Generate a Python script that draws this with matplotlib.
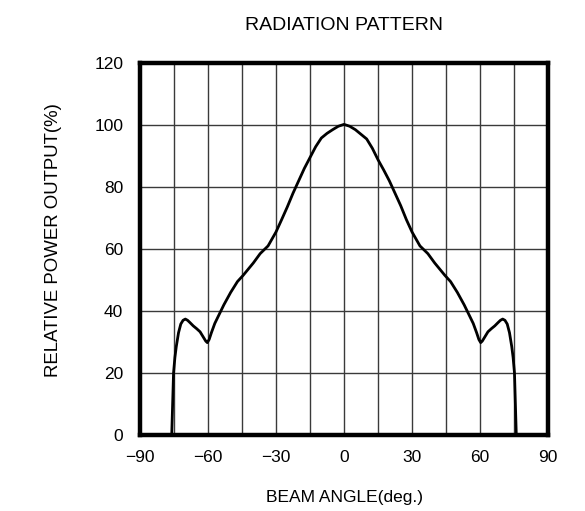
import matplotlib
matplotlib.use('Agg')
import matplotlib.pyplot as plt
import numpy as np

# beam angle (deg) and relative power output (%)
angle = [-76.0, -75.6, -75.2, -74.6, -74.0, -73.0, -72.0, -71.0, -70.0, -69.0, -68.0,
         -66.5, -65.0, -63.5, -62.0, -61.0, -60.3, -59.5, -58.5, -57.0, -55.0,
         -53.0, -50.0, -47.0, -44.5, -40.0, -37.0, -33.5, -30.0, -27.5, -25.0,
         -22.5, -20.0, -17.5, -15.0, -12.5, -10.0, -7.5, -5.0, -2.5, 0.0,
         2.5, 5.0, 7.5, 10.0, 12.5, 15.0, 17.5, 20.0, 22.5, 25.0, 27.5, 30.0,
         33.5, 37.0, 40.0, 44.5, 47.0, 50.0, 53.0, 55.0, 57.0, 58.5, 59.5, 60.3,
         61.0, 62.0, 63.5, 65.0, 66.5, 68.0, 69.0, 70.0, 71.0, 72.0, 73.0, 74.0,
         74.6, 75.2, 75.6, 76.0]
power = [0.0, 10.0, 20.0, 25.0, 28.5, 33.0, 35.8, 37.0, 37.4, 37.0, 36.3,
         35.2, 34.3, 33.3, 31.5, 30.3, 29.8, 30.8, 33.0, 36.0, 39.0,
         42.0, 46.0, 49.5, 51.5, 55.5, 58.5, 61.0, 65.5, 69.5, 73.6,
         78.0, 82.0, 86.0, 89.5, 93.0, 95.8, 97.3, 98.5, 99.6, 100.2,
         99.6, 98.5, 97.0, 95.5, 92.5, 88.8, 85.5, 82.0, 78.0, 74.0, 69.5, 65.5,
         61.0, 58.5, 55.5, 51.5, 49.5, 46.0, 42.0, 39.0, 36.0, 33.0, 30.8, 29.8,
         30.3, 31.5, 33.3, 34.3, 35.2, 36.3, 37.0, 37.4, 37.0, 35.8, 33.0, 28.5,
         25.0, 20.0, 10.0, 0.0]

xticks = [-90, -60, -30, 0, 30, 60, 90]
xticklabels = ['\u221290', '\u221260', '\u221230', '0', '30', '60', '90']
yticks = [0, 20, 40, 60, 80, 100, 120]

plt.rcParams['font.family'] = ['Liberation Sans', 'DejaVu Sans']

fig = plt.figure(figsize=(5.85, 5.11), dpi=100)
ax = fig.add_axes([0.2393, 0.1487, 0.6975, 0.728])

ax.plot(angle, power, color='black', lw=2.0, solid_joinstyle='round', zorder=3)

ax.set_xlim(-90, 90)
ax.set_ylim(0, 120)
ax.set_xticks(xticks)
ax.set_xticks(np.arange(-75, 90, 15), minor=True)
ax.set_yticks(yticks)
ax.grid(True, which='both', axis='x', color='#3a3a3a', lw=1.0)
ax.grid(True, which='major', axis='y', color='#3a3a3a', lw=1.0)
ax.tick_params(which='both', length=0, labelsize=12.5)
ax.tick_params(axis='x', pad=11)
ax.tick_params(axis='y', pad=12)
ax.set_xticklabels(xticklabels)

for s in ax.spines.values():
    s.set_linewidth(3.2)
    s.set_zorder(4)

ax.set_title('RADIATION PATTERN', fontsize=14, pad=24)
ax.set_xlabel('BEAM ANGLE(deg.)', fontsize=12.5, labelpad=18)
ax.set_ylabel('RELATIVE POWER OUTPUT(%)', fontsize=13.4)
ax.yaxis.set_label_coords(-0.19, 0.525)

fig.savefig('out.png', dpi=100)
